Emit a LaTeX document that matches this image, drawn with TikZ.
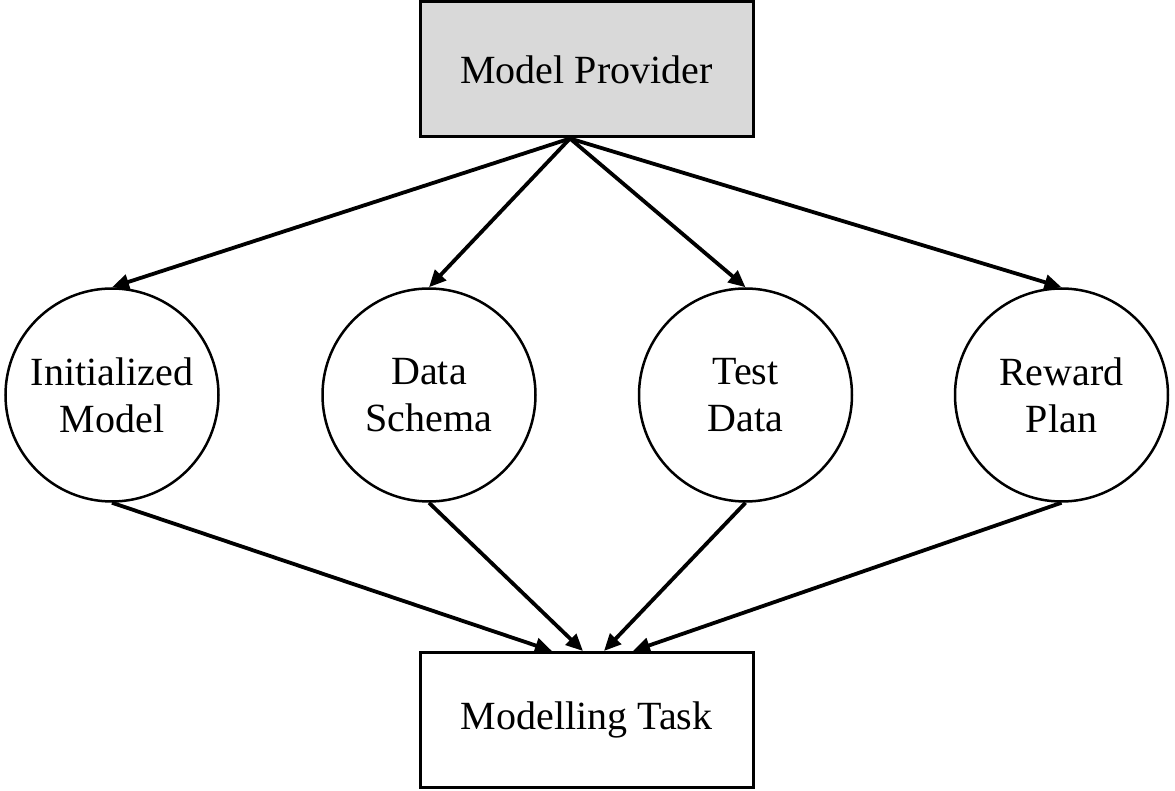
\documentclass[tikz,border=0pt]{standalone}
\usepackage{fontspec}
\setmainfont{Liberation Serif}
\usetikzlibrary{arrows.meta,calc}
\definecolor{provgray}{HTML}{D9D9D9}
\begin{document}
\begin{tikzpicture}[x=0.5pt,y=-0.5pt,
  boxnode/.style={draw,line width=1.5pt,minimum width=166.5pt,minimum height=67.5pt,inner sep=0pt,font=\fontsize{20}{23.5}\selectfont},
  circnode/.style={circle,draw,line width=1.25pt,minimum size=106.5pt,inner sep=0pt,align=center,font=\fontsize{20}{23.5}\selectfont},
  arr/.style={line width=1.9pt,-{Triangle[length=8.5pt,width=7.5pt]}}]
\useasboundingbox (0,0) rectangle (1175,791);
\node[boxnode,fill=provgray] (MP) at (586.5,69.5) {Model Provider};
\node[boxnode] (MT) at (586.5,720) {Modelling Task};
\node[circnode] (IM) at (112,395) {Initialized\\Model};
\node[circnode] (DS) at (429,395) {Data\\Schema};
\node[circnode] (TD) at (745.5,395) {Test\\Data};
\node[circnode] (RP) at (1061.5,395) {Reward\\Plan};
\coordinate (src) at ($(MP.south)+(-16.5,0)$);
\coordinate (t1) at ($(MT.north)+(-34.5,0)$);
\coordinate (t2) at ($(MT.north)+(-3.5,0)$);
\coordinate (t3) at ($(MT.north)+(17.5,0)$);
\coordinate (t4) at ($(MT.north)+(46.5,0)$);
\draw[arr] (src) -- (IM.north);
\draw[arr] (src) -- (DS.north);
\draw[arr] (src) -- (TD.north);
\draw[arr] (src) -- (RP.north);
\draw[arr] (IM.south) -- (t1);
\draw[arr] (DS.south) -- (t2);
\draw[arr] (TD.south) -- (t3);
\draw[arr] (RP.south) -- (t4);
\end{tikzpicture}
\end{document}
